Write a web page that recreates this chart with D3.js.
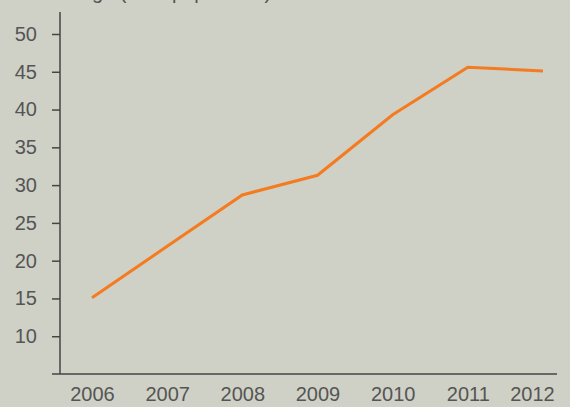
<!DOCTYPE html>
<html>
<head>
<meta charset="utf-8">
<script src="https://cdn.jsdelivr.net/npm/d3@7"></script>
<style>
  body { margin: 0; background: #cfd1c6; }
  svg text { font-family: "Liberation Sans", Arial, Helvetica, sans-serif; }
</style>
</head>
<body>
<svg id="chart" width="570" height="407"></svg>
<script>
  // values
  var years = [2006, 2007, 2008, 2009, 2010, 2011, 2012];
  var values = [15.1, 21.9, 28.7, 31.3, 39.3, 45.6, 45.1];
  var yTicks = [10, 15, 20, 25, 30, 35, 40, 45, 50];
  var title = "Percentage (% of population)";

  var svg = d3.select('#chart');
  var axisColor = '#454545', textColor = '#555555';

  svg.append('rect')
    .attr('width', 570).attr('height', 407)
    .attr('fill', '#cfd1c6');

  var x = d3.scaleLinear().domain([2006, 2012]).range([92, 543]);
  var y = d3.scaleLinear().domain([5, 50]).range([374, 34]);

  // title sits above the top edge, only descenders show (as in the source)
  svg.append('text')
    .attr('x', 12).attr('y', -1)
    .attr('font-size', 20)
    .attr('fill', textColor)
    .text(title);

  // y axis
  var yAxis = svg.append('g')
    .attr('transform', 'translate(60,0)')
    .call(d3.axisLeft(y).tickValues(yTicks).tickSize(8).tickPadding(15));
  yAxis.select('.domain').remove();
  yAxis.selectAll('line').attr('stroke', axisColor).attr('stroke-width', 1.5);
  yAxis.selectAll('text').attr('font-size', 20).attr('fill', textColor)
    .attr('font-family', '"Liberation Sans", Arial, sans-serif');

  svg.append('line')
    .attr('x1', 60).attr('x2', 60)
    .attr('y1', 12).attr('y2', y(5))
    .attr('stroke', axisColor).attr('stroke-width', 1.5);

  // x axis
  var xAxis = svg.append('g')
    .attr('transform', 'translate(0,' + y(5) + ')')
    .call(d3.axisBottom(x).tickValues(years).tickFormat(d3.format('d')).tickSize(0).tickPadding(13));
  xAxis.select('.domain').remove();
  xAxis.selectAll('text').attr('font-size', 20).attr('fill', textColor)
    .attr('font-family', '"Liberation Sans", Arial, sans-serif')
    .attr('dx', function (d) { return d === 2012 ? -11 : 0; });

  svg.append('line')
    .attr('x1', 52).attr('x2', 557)
    .attr('y1', y(5)).attr('y2', y(5))
    .attr('stroke', axisColor).attr('stroke-width', 1.5);

  // the series
  var line = d3.line()
    .x(function (d, i) { return x(years[i]); })
    .y(function (d) { return y(d); });

  svg.append('path')
    .datum(values)
    .attr('d', line)
    .attr('fill', 'none')
    .attr('stroke', '#f47b20')
    .attr('stroke-width', 3);
</script>
</body>
</html>
